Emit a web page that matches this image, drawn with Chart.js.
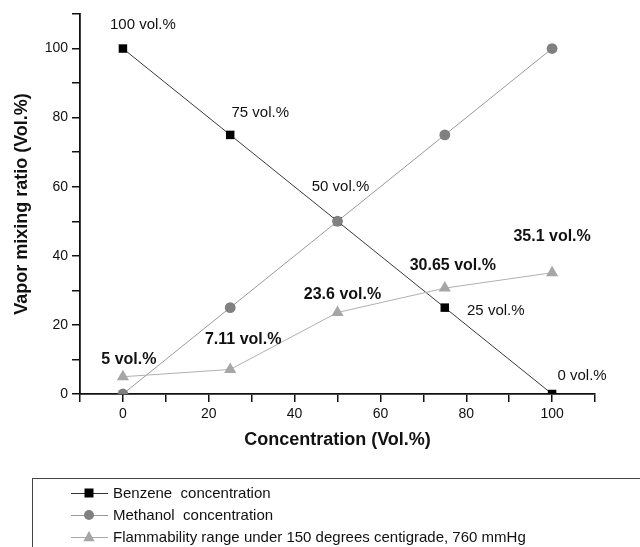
<!DOCTYPE html>
<html>
<head>
<meta charset="utf-8">
<script src="https://cdn.jsdelivr.net/npm/chart.js@4.4.1/dist/chart.umd.min.js"></script>
<style>
  html, body { margin: 0; padding: 0; background: #fff; }
  #wrap { width: 640px; height: 547px; position: relative; }
</style>
</head>
<body>
<div id="wrap"><canvas id="c" width="640" height="547"></canvas></div>
<script>
// ---- data ----
const concentrations = [0, 25, 50, 75, 100];
const benzeneValues = [100, 75, 50, 25, 0];
const methanolValues = [0, 25, 50, 75, 100];
const flammabilityValues = [5, 7.11, 23.6, 30.65, 35.1];
const seriesNames = [
  'Benzene  concentration',
  'Methanol  concentration',
  'Flammability range under 150 degrees centigrade, 760 mmHg'
];
const xTitle = 'Concentration (Vol.%)';
const yTitle = 'Vapor mixing ratio (Vol.%)';

// ---- label offsets (layout only) ----
const benzeneLabelOffsets = [[20, -24], [30, -22], [3, -34], [51, 3], [30, -18]];
const flamLabelOffsets = [[6, -17], [13, -30], [5, -18], [8, -23], [0, -36]];

const toPoints = (ys) => concentrations.map((x, i) => ({ x, y: ys[i] }));
const FONT = '"Liberation Sans", Arial, sans-serif';

const labelPlugin = {
  id: 'valueLabels',
  afterDatasetsDraw(chart) {
    const ctx = chart.ctx;
    ctx.save();
    ctx.textAlign = 'center';
    ctx.textBaseline = 'middle';
    ctx.fillStyle = '#111';
    const bMeta = chart.getDatasetMeta(0);
    ctx.font = '15px ' + FONT;
    bMeta.data.forEach((pt, i) => {
      const [dx, dy] = benzeneLabelOffsets[i];
      ctx.fillText(benzeneValues[i] + ' vol.%', pt.x + dx, pt.y + dy);
    });
    const fMeta = chart.getDatasetMeta(2);
    ctx.font = 'bold 16px ' + FONT;
    fMeta.data.forEach((pt, i) => {
      const [dx, dy] = flamLabelOffsets[i];
      ctx.fillText(flammabilityValues[i] + ' vol.%', pt.x + dx, pt.y + dy);
    });
    ctx.restore();
  },
  afterDraw(chart) {
    const ctx = chart.ctx;
    ctx.save();
    // legend box
    ctx.strokeStyle = '#444';
    ctx.lineWidth = 1;
    ctx.strokeRect(32.5, 478.5, 640, 100);
    const rows = [493, 515, 537];
    const styles = [
      { line: '#333', fill: '#000', shape: 'rect', r: 4.5 },
      { line: '#999', fill: '#808080', shape: 'circle', r: 5 },
      { line: '#aaa', fill: '#a6a6a6', shape: 'triangle', r: 6 }
    ];
    ctx.font = '15px ' + FONT;
    ctx.textBaseline = 'middle';
    ctx.textAlign = 'left';
    rows.forEach((y, i) => {
      const s = styles[i];
      ctx.strokeStyle = s.line;
      ctx.lineWidth = 1;
      ctx.beginPath();
      ctx.moveTo(71, y + 0.5);
      ctx.lineTo(108, y + 0.5);
      ctx.stroke();
      ctx.fillStyle = s.fill;
      const cx = 89;
      ctx.beginPath();
      if (s.shape === 'rect') {
        ctx.rect(cx - s.r, y - s.r, 2 * s.r, 2 * s.r);
      } else if (s.shape === 'circle') {
        ctx.arc(cx, y, s.r, 0, Math.PI * 2);
      } else {
        ctx.moveTo(cx, y - s.r);
        ctx.lineTo(cx + s.r * 0.95, y + s.r * 0.7);
        ctx.lineTo(cx - s.r * 0.95, y + s.r * 0.7);
        ctx.closePath();
      }
      ctx.fill();
      ctx.fillStyle = '#111';
      ctx.fillText(seriesNames[i], 113, y + 1);
    });
    ctx.restore();
  }
};

new Chart(document.getElementById('c'), {
  type: 'scatter',
  data: {
    datasets: [
      {
        label: seriesNames[0],
        data: toPoints(benzeneValues),
        showLine: true,
        borderColor: '#3a3a3a',
        borderWidth: 1,
        backgroundColor: '#000',
        pointBackgroundColor: '#000',
        pointBorderColor: '#000',
        pointBorderWidth: 0,
        pointStyle: 'rect',
        pointRadius: 6,
        order: 3
      },
      {
        label: seriesNames[1],
        data: toPoints(methanolValues),
        showLine: true,
        borderColor: '#9a9a9a',
        borderWidth: 1,
        backgroundColor: '#808080',
        pointBackgroundColor: '#808080',
        pointBorderColor: '#808080',
        pointBorderWidth: 0,
        pointStyle: 'circle',
        pointRadius: 5.4,
        order: 2
      },
      {
        label: seriesNames[2],
        data: toPoints(flammabilityValues),
        showLine: true,
        borderColor: '#b0b0b0',
        borderWidth: 1,
        backgroundColor: '#a6a6a6',
        pointBackgroundColor: '#a6a6a6',
        pointBorderColor: '#a6a6a6',
        pointBorderWidth: 0,
        pointStyle: 'triangle',
        pointRadius: 7,
        order: 1
      }
    ]
  },
  options: {
    responsive: false,
    animation: false,
    events: [],
    layout: { padding: { top: 14, right: 45, bottom: 77, left: 0 } },
    plugins: { legend: { display: false }, tooltip: { enabled: false } },
    scales: {
      x: {
        type: 'linear',
        min: -10,
        max: 110,
        afterFit: (s) => { s.height = 76; },
        ticks: {
          stepSize: 10,
          autoSkip: false,
          maxRotation: 0,
          padding: 4,
          color: '#111',
          font: { family: FONT, size: 14 },
          callback: (v) => (v % 20 === 0 ? v : '')
        },
        grid: { drawOnChartArea: false, drawTicks: true, tickLength: 8, color: '#111', lineWidth: 1.5 },
        border: { display: true, color: '#111', width: 1.8 },
        title: {
          display: true,
          text: xTitle,
          color: '#111',
          font: { family: FONT, size: 18, weight: 'bold' },
          padding: { top: 0, bottom: 19 }
        }
      },
      y: {
        type: 'linear',
        min: 0,
        max: 110,
        afterFit: (s) => { s.width = 80; },
        ticks: {
          stepSize: 10,
          autoSkip: false,
          padding: 4,
          color: '#111',
          font: { family: FONT, size: 14 },
          callback: (v) => (v % 20 === 0 ? v : '')
        },
        grid: { drawOnChartArea: false, drawTicks: true, tickLength: 8, color: '#111', lineWidth: 1.5 },
        border: { display: true, color: '#111', width: 1.8 },
        title: {
          display: true,
          text: yTitle,
          color: '#111',
          font: { family: FONT, size: 18, weight: 'bold' },
          padding: { top: 11, bottom: 0 }
        }
      }
    }
  },
  plugins: [labelPlugin]
});
</script>
</body>
</html>
